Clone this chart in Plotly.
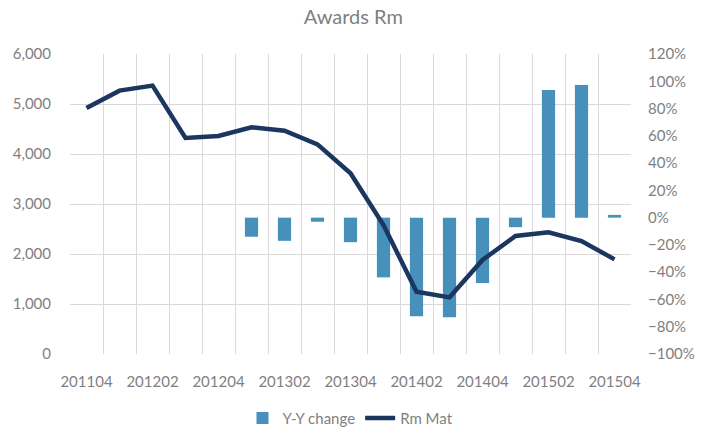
import plotly.graph_objects as go

quarters = ["201104", "201201", "201202", "201203", "201204", "201301", "201302",
            "201303", "201304", "201401", "201402", "201403", "201404", "201501",
            "201502", "201503", "201504"]
rm_mat = [4920, 5267, 5367, 4320, 4360, 4533, 4467, 4193, 3613, 2580, 1247,
          1133, 1880, 2360, 2433, 2260, 1893]
yy_change = [None, None, None, None, None, -0.14, -0.17, -0.03, -0.18, -0.438,
             -0.724, -0.73, -0.48, -0.07, 0.936, 0.972, 0.02]

left_ticks = [0, 1000, 2000, 3000, 4000, 5000, 6000]
right_ticks = [-1.0, -0.8, -0.6, -0.4, -0.2, 0.0, 0.2, 0.4, 0.6, 0.8, 1.0, 1.2]

idx = list(range(len(quarters)))
grey = "#7f7f7f"
grid = "#d9d9d9"
font_family = "Lato, 'Open Sans', sans-serif"

fig = go.Figure()
# Year-on-year change bars on the right-hand percentage axis
fig.add_trace(go.Bar(
    x=idx, y=yy_change, name="Y-Y change", yaxis="y",
    marker=dict(color="#4690bb", line=dict(width=0)), width=0.4,
))
# Moving annual total line on the left-hand value axis, drawn above the bars
fig.add_trace(go.Scatter(
    x=idx, y=rm_mat, name="Rm Mat", yaxis="y2", mode="lines",
    line=dict(color="#1b365f", width=4.5),
))

fig.update_layout(
    width=708, height=438,
    margin=dict(l=70, r=77, t=54, b=84, autoexpand=False),
    paper_bgcolor="white", plot_bgcolor="white",
    font=dict(family=font_family, color=grey, size=15),
    title=dict(text="Awards Rm", x=0.499, xanchor="center", y=0.962, yanchor="middle",
               font=dict(size=20, color=grey, family=font_family)),
    showlegend=True,
    legend=dict(orientation="h", x=0.5, xanchor="center", yref="container",
                y=0.045, yanchor="middle",
                font=dict(size=15, color=grey), traceorder="normal"),
    xaxis=dict(
        range=[-0.5, len(quarters) - 0.5],
        tickmode="array", tickvals=idx[::2], ticktext=quarters[::2],
        showgrid=False, zeroline=False, showline=False,
        ticks="outside", ticklen=14, tickcolor="rgba(0,0,0,0)",
        tickfont=dict(size=15, color=grey),
        minor=dict(tickmode="array",
                   tickvals=[i - 0.5 for i in range(len(quarters) + 1)],
                   showgrid=True, gridcolor=grid, gridwidth=1.3, ticks=""),
    ),
    yaxis=dict(
        side="right", range=[-1.0, 1.2], tickmode="array", tickvals=right_ticks,
        tickformat=".0%", showgrid=False, zeroline=False, showline=False,
        ticks="outside", ticklen=13, tickcolor="rgba(0,0,0,0)",
        tickfont=dict(size=15, color=grey),
    ),
    yaxis2=dict(
        side="left", overlaying="y", range=[0, 6000], tickmode="array",
        tickvals=left_ticks, tickformat=",", showgrid=True, gridcolor=grid,
        gridwidth=1.3, zeroline=False, showline=False,
        ticks="outside", ticklen=15, tickcolor="rgba(0,0,0,0)",
        tickfont=dict(size=15, color=grey),
    ),
)

fig.write_html("out.html")
